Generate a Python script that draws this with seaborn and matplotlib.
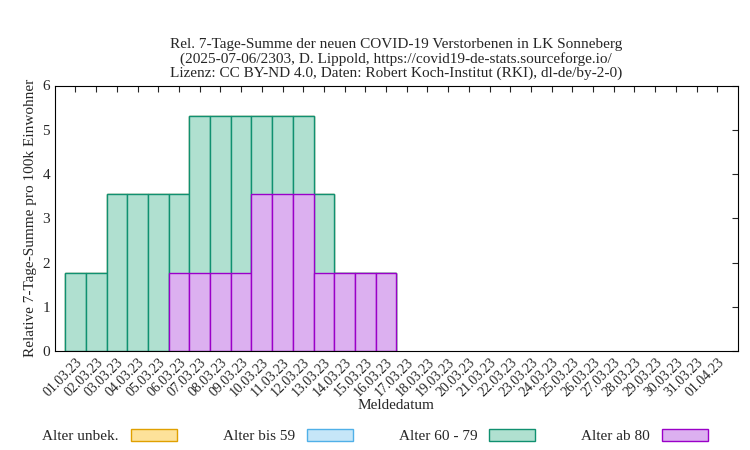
import numpy as np
import pandas as pd
import matplotlib
matplotlib.use("Agg")
import matplotlib.pyplot as plt
import seaborn as sns
from matplotlib.patches import Patch

dates = [f"{d:02d}.03.23" for d in range(1, 32)] + ["01.04.23"]
alter_unbek = [0.0] * 32
alter_bis59 = [0.0] * 32
alter_60_79 = [1.77, 1.77, 3.55, 3.55, 3.55, 1.77, 3.55, 3.55, 3.55, 1.77, 1.77, 1.77, 1.77,
               0, 0, 0] + [0.0] * 16
alter_ab80 = [0, 0, 0, 0, 0, 1.77, 1.77, 1.77, 1.77, 3.55, 3.55, 3.55, 1.77,
              1.77, 1.77, 1.77] + [0.0] * 16

sns.set_style("white")
plt.rcParams["font.family"] = ["Liberation Serif", "DejaVu Serif"]

fig, ax = plt.subplots(figsize=(7.5, 4.5), dpi=100)
x = np.arange(len(dates))
series = [("Alter unbek.", alter_unbek, "#fde29a", "#e0a000"),
          ("Alter bis 59", alter_bis59, "#c6e6f8", "#50b0e8"),
          ("Alter 60 - 79", alter_60_79, "#b0e0d0", "#109070"),
          ("Alter ab 80", alter_ab80, "#dcb0f0", "#9a00c8")]
# stack from bottom: ab 80, 60-79, bis 59, unbek.
bottom = np.zeros(len(dates))
tops = []
for name, vals, fc, ec in reversed(series):
    bottom = bottom + np.array(vals)
    tops.append((name, bottom.copy(), fc, ec))
# draw tallest first so lower segments show in front
for name, tot, fc, ec in reversed(tops):
    df = pd.DataFrame({"x": x, "y": tot})
    n0 = len(ax.patches)
    sns.barplot(data=df, x="x", y="y", ax=ax, color=fc, width=1.0,
                edgecolor=ec, linewidth=1, native_scale=True, zorder=2)
    for p in ax.patches[n0:]:
        p.set_facecolor(fc)
        if p.get_height() == 0:
            p.set_visible(False)

ax.set_xlim(-1, len(dates))
ax.set_ylim(0, 6)
ax.set_xticks(x)
ax.set_xticklabels(dates, rotation=45, ha="right", rotation_mode="anchor", fontsize=10)
ax.tick_params(axis="y", labelsize=11)
ax.tick_params(direction="in", length=4, top=True, right=True)
for s in ax.spines.values():
    s.set_color("black")
ax.set_xlabel("Meldedatum", fontsize=11, labelpad=0)
ax.set_ylabel("Relative 7-Tage-Summe pro 100k Einwohner", fontsize=11)
ax.set_title("Rel. 7-Tage-Summe der neuen COVID-19 Verstorbenen in LK Sonneberg\n"
             "(2025-07-06/2303, D. Lippold, https://covid19-de-stats.sourceforge.io/\n"
             "Lizenz: CC BY-ND 4.0, Daten: Robert Koch-Institut (RKI), dl-de/by-2-0)",
             fontsize=11, linespacing=1.1)
handles = [Patch(facecolor=fc, edgecolor=ec, label=n) for n, _, fc, ec in series]
fig.legend(handles=handles, loc="lower center", ncol=4, frameon=False, fontsize=11,
           bbox_to_anchor=(0.5, -0.015), handlelength=3, handleheight=0.8,
           columnspacing=3, markerfirst=False)
fig.subplots_adjust(left=0.073, right=0.984, top=0.81, bottom=0.22)
fig.savefig("out.png", dpi=100)
